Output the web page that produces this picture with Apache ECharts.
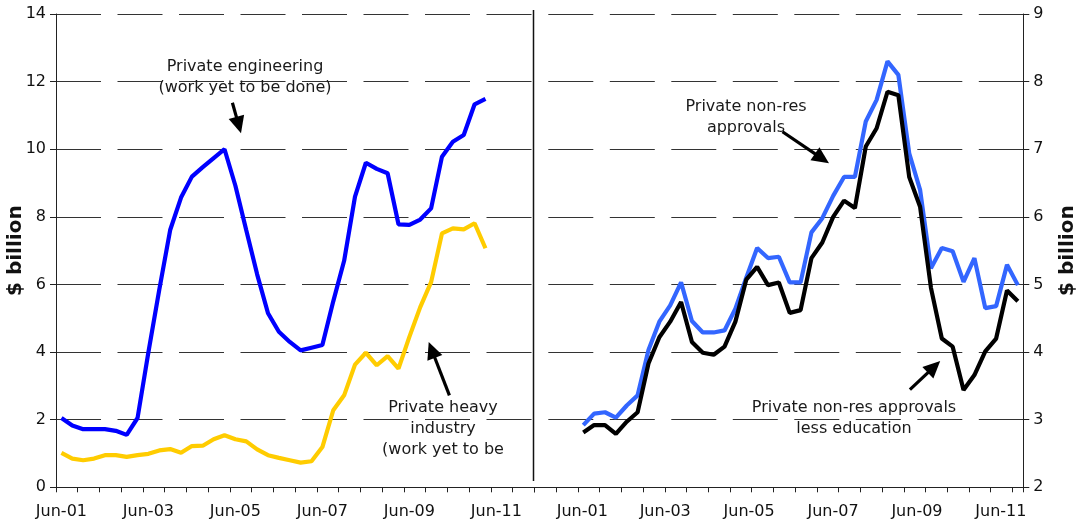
<!DOCTYPE html>
<html><head><meta charset="utf-8">
<script src="https://cdn.jsdelivr.net/npm/echarts@6/dist/echarts.min.js"></script>
<style>html,body{margin:0;padding:0;background:#fff}#c{width:1078px;height:524px}</style>
</head><body><div id="c"></div>
<script>
// ---- Left panel: quarterly categories ----
const leftCategories = ['Jun-01','Sep-01','Dec-01','Mar-02','Jun-02','Sep-02','Dec-02','Mar-03',
  'Jun-03','Sep-03','Dec-03','Mar-04','Jun-04','Sep-04','Dec-04','Mar-05',
  'Jun-05','Sep-05','Dec-05','Mar-06','Jun-06','Sep-06','Dec-06','Mar-07',
  'Jun-07','Sep-07','Dec-07','Mar-08','Jun-08','Sep-08','Dec-08','Mar-09',
  'Jun-09','Sep-09','Dec-09','Mar-10','Jun-10','Sep-10','Dec-10','Mar-11',
  'Jun-11','Sep-11','Dec-11','Mar-12'];
const engineering = [2.05,1.83,1.72,1.72,1.72,1.67,1.55,2.05,4.0,5.85,
  7.61,8.57,9.19,9.47,9.74,10.0,8.92,7.6,6.3,5.15,
  4.6,4.3,4.05,4.13,4.21,5.5,6.7,8.6,9.6,9.42,
  9.29,7.78,7.76,7.92,8.25,9.78,10.22,10.42,11.33,11.49];
const heavyIndustry = [1.02,0.85,0.8,0.85,0.95,0.95,0.9,0.95,0.99,1.09,
  1.13,1.02,1.22,1.23,1.42,1.54,1.42,1.36,1.12,0.95,
  0.87,0.8,0.73,0.77,1.19,2.28,2.72,3.63,3.98,3.61,
  3.88,3.51,4.45,5.33,6.07,7.51,7.66,7.63,7.81,7.07];
const leftTicks = [0,2,4,6,8,10,12,14];

// ---- Right panel: quarterly categories ----
const rightCategories = ['Jun-00','Sep-00','Dec-00','Mar-01',
  'Jun-01','Sep-01','Dec-01','Mar-02','Jun-02','Sep-02','Dec-02','Mar-03',
  'Jun-03','Sep-03','Dec-03','Mar-04','Jun-04','Sep-04','Dec-04','Mar-05',
  'Jun-05','Sep-05','Dec-05','Mar-06','Jun-06','Sep-06','Dec-06','Mar-07',
  'Jun-07','Sep-07','Dec-07','Mar-08','Jun-08','Sep-08','Dec-08','Mar-09',
  'Jun-09','Sep-09','Dec-09','Mar-10','Jun-10','Sep-10','Dec-10','Mar-11','Jun-11'];
const nonResApprovals = [null,null,null,null,
  2.92,3.09,3.11,3.03,3.21,3.36,4.03,4.45,4.69,5.03,
  4.46,4.29,4.29,4.32,4.64,5.1,5.54,5.39,5.41,5.03,
  5.03,5.77,5.98,6.31,6.59,6.59,7.41,7.73,8.30,8.10,
  6.94,6.40,5.24,5.54,5.49,5.04,5.39,4.65,4.68,5.29,4.99];
const nonResLessEducation = [null,null,null,null,
  2.81,2.92,2.92,2.79,2.97,3.11,3.83,4.22,4.45,4.74,
  4.15,3.99,3.96,4.08,4.45,5.07,5.26,4.99,5.03,4.58,
  4.62,5.39,5.62,6.0,6.24,6.13,7.04,7.31,7.85,7.80,
  6.59,6.15,4.95,4.20,4.08,3.44,3.66,4.01,4.20,4.91,4.75];
const rightTicks = [2,3,4,5,6,7,8,9];

const FONT = 'DejaVu Sans';
const AX = '#222';
const chart = echarts.init(document.getElementById('c'), null, {renderer:'canvas'});

// right-panel date labels sit slightly left of their quarter (label k of 6)
const rightLabelShift = [1, 5, 8, 11, 14, 17];
const rich = {};
rightLabelShift.forEach(function(s, k){
  rich['s'+k] = {fontFamily:FONT, fontSize:16, color:'#111', padding:[0, 2*s, 0, 0]};
});

function xAxisCfg(gridIndex, cats, labelInterval, formatter, richStyles){
  const lab = {interval:labelInterval, color:'#111', fontFamily:FONT, fontSize:16, margin:17};
  if (formatter) { lab.formatter = formatter; lab.rich = richStyles; }
  return {
    gridIndex, type:'category', data:cats, boundaryGap:true,
    axisLine:{show:true, lineStyle:{color:AX, width:1}},
    axisTick:{show:true, interval:1, length:5, inside:false, lineStyle:{color:AX, width:1}},
    axisLabel:lab,
    splitLine:{show:false}
  };
}
function yAxisCfg(gridIndex, ticks, pos, dashOffset, nameGap){
  return {
    gridIndex, type:'value', position:pos,
    min:ticks[0], max:ticks[ticks.length-1], interval:ticks[1]-ticks[0],
    axisLine:{show:true, lineStyle:{color:AX, width:1}},
    axisTick:{show:true, length:6, inside:false, lineStyle:{color:AX, width:1}},
    axisLabel:{color:'#111', fontFamily:FONT, fontSize:16, margin:10},
    splitLine:{show:true, lineStyle:{color:'#333', width:1, type:[45,16.5], dashOffset:dashOffset}},
    name:'$ billion', nameLocation:'middle', nameRotate:90, nameGap:nameGap, nameMoveOverlap:false,
    nameTextStyle:{fontFamily:FONT, fontWeight:'bold', fontSize:20, color:'#111'}
  };
}

function arrow(tail, tip){
  const dx = tip[0]-tail[0], dy = tip[1]-tail[1];
  const L = Math.sqrt(dx*dx+dy*dy), ux = dx/L, uy = dy/L, nx = -uy, ny = ux;
  const hl = 17, hw = 8;
  const bx = tip[0]-ux*hl, by = tip[1]-uy*hl;
  return [
    {type:'line', shape:{x1:tail[0], y1:tail[1], x2:bx+ux*2, y2:by+uy*2}, style:{stroke:'#000', lineWidth:3.2}, z:100},
    {type:'polygon', shape:{points:[[tip[0],tip[1]],[bx+nx*hw,by+ny*hw],[bx-nx*hw,by-ny*hw]]}, style:{fill:'#000'}, z:100}
  ];
}
function label(text, x, y){
  return {type:'text', x:x, y:y, z:100, style:{text:text, font:'16px "DejaVu Sans"', fill:'#1a1a1a', align:'center', verticalAlign:'middle', textAlign:'center', textVerticalAlign:'middle'}};
}

const graphics = [
  {type:'line', shape:{x1:533.5, y1:10, x2:533.5, y2:481}, style:{stroke:'#111', lineWidth:1.5}, z:90},
  label('Private engineering', 245, 67),
  label('(work yet to be done)', 245, 88),
  label('Private heavy', 443, 408),
  label('industry', 443, 429),
  label('(work yet to be', 443, 450),
  label('Private non-res', 746, 107),
  label('approvals', 746, 128),
  label('Private non-res approvals', 854, 408),
  label('less education', 854, 429),
  ...arrow([232.4,102.7],[241,133.3]),
  ...arrow([449.4,395.3],[428.7,342]),
  ...arrow([782.5,131.7],[829,163.3]),
  ...arrow([909.9,389.7],[940.2,361])
];

chart.setOption({
  animation:false,
  backgroundColor:'#fff',
  grid:[
    {left:56, top:14, width:478.4, height:473.3, containLabel:false, outerBoundsMode:'none'},
    {left:534.4, top:14, width:488.9, height:473.3, containLabel:false, outerBoundsMode:'none'}
  ],
  xAxis:[
    xAxisCfg(0, leftCategories, 7),
    xAxisCfg(1, rightCategories, function(i){ return (i-4)%8===0; },
      function(value, index){ const k = Math.round((index-4)/8); return '{s'+k+'|'+value+'}'; }, rich)
  ],
  yAxis:[
    yAxisCfg(0, leftTicks, 'left', 0, 30),
    yAxisCfg(1, rightTicks, 'right', 47.6, 34)
  ],
  series:[
    {type:'line', name:'Private engineering', xAxisIndex:0, yAxisIndex:0, data:engineering, showSymbol:false, lineStyle:{color:'#0000FF', width:4.2}, itemStyle:{color:'#0000FF'}, z:3},
    {type:'line', name:'Private heavy industry', xAxisIndex:0, yAxisIndex:0, data:heavyIndustry, showSymbol:false, lineStyle:{color:'#FFCC00', width:4.2}, itemStyle:{color:'#FFCC00'}, z:3},
    {type:'line', name:'Private non-res approvals', xAxisIndex:1, yAxisIndex:1, data:nonResApprovals, showSymbol:false, lineStyle:{color:'#3366FF', width:4.2}, itemStyle:{color:'#3366FF'}, z:3},
    {type:'line', name:'Private non-res approvals less education', xAxisIndex:1, yAxisIndex:1, data:nonResLessEducation, showSymbol:false, lineStyle:{color:'#000000', width:4.2}, itemStyle:{color:'#000'}, z:4}
  ],
  graphic:graphics
});
</script>
</body></html>
